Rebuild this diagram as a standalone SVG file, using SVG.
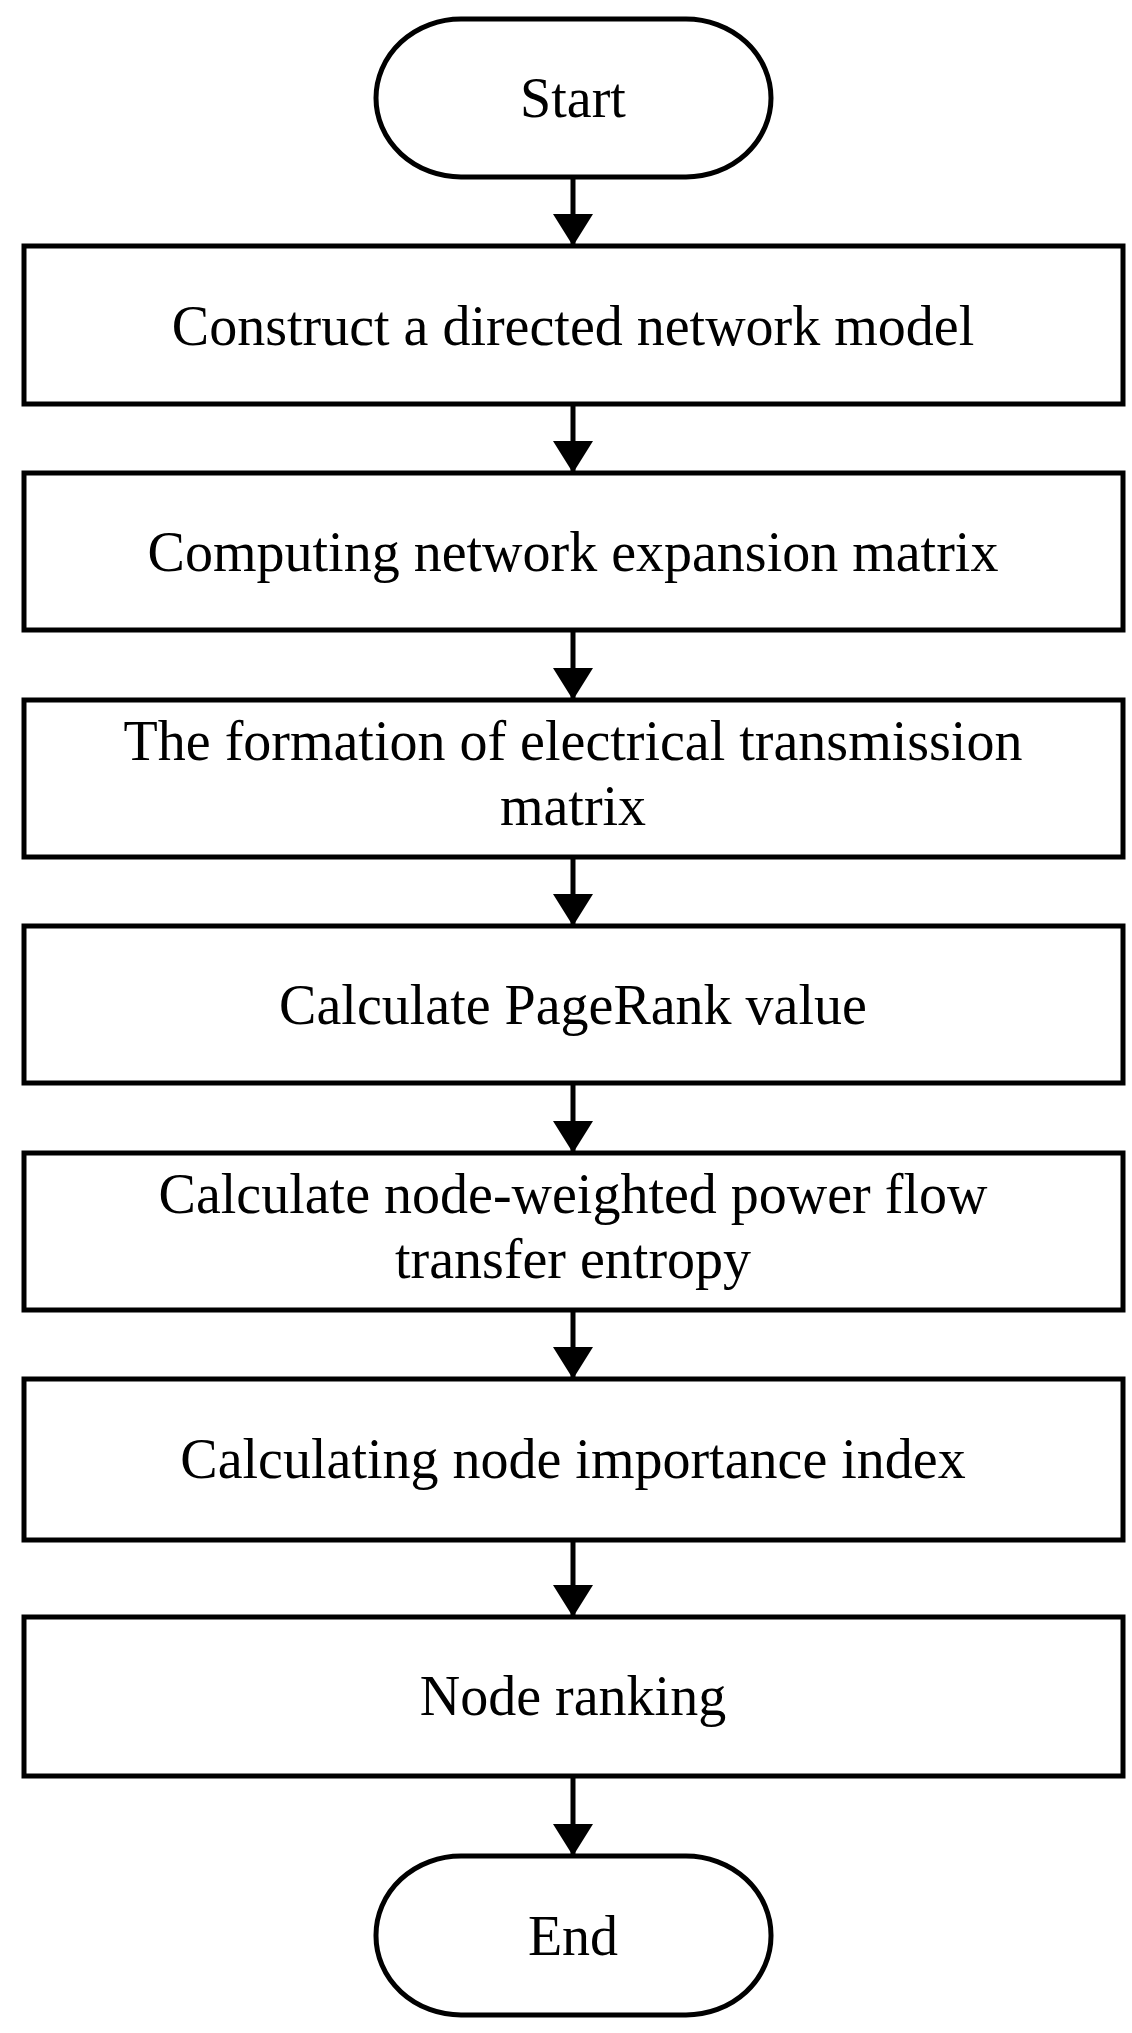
<svg xmlns="http://www.w3.org/2000/svg" width="1132" height="2033" viewBox="0 0 1132 2033">
<style>
.s{fill:#fff;stroke:#000;stroke-width:5}
.t{font-family:"Liberation Serif","Times New Roman",serif;font-size:56px;text-anchor:middle;fill:#000}
.c{stroke:#000;stroke-width:5;fill:none}
</style>
<defs><marker id="a" markerWidth="10" markerHeight="8" refX="10" refY="4" orient="auto" markerUnits="userSpaceOnUse" viewBox="0 0 10 8"><path d="M0,0L10,4L0,8z" fill="#000"/></marker>
<marker id="ah" viewBox="0 0 32 40" refX="32" refY="20" markerWidth="32" markerHeight="40" orient="auto" markerUnits="userSpaceOnUse"><path d="M0,0L32,20L0,40z" fill="#000"/></marker></defs>
<rect width="1132" height="2033" fill="#fff"/>
<g id="start"><rect class="s" x="376" y="19" width="395" height="158" rx="85" ry="79"/><text class="t" x="573" y="117">Start</text></g>
<g id="n1"><rect class="s" x="24" y="246" width="1099" height="158"/><text class="t" x="573" y="345">Construct a directed network model</text></g>
<g id="n2"><rect class="s" x="24" y="473" width="1099" height="157"/><text class="t" x="573" y="571">Computing network expansion matrix</text></g>
<g id="n3"><rect class="s" x="24" y="700" width="1099" height="157"/><text class="t" x="573" y="760">The formation of electrical transmission</text><text class="t" x="573" y="825">matrix</text></g>
<g id="n4"><rect class="s" x="24" y="926" width="1099" height="157"/><text class="t" x="573" y="1024">Calculate PageRank value</text></g>
<g id="n5"><rect class="s" x="24" y="1153" width="1099" height="157"/><text class="t" x="573" y="1213">Calculate node-weighted power flow</text><text class="t" x="573" y="1278">transfer entropy</text></g>
<g id="n6"><rect class="s" x="24" y="1379" width="1099" height="161"/><text class="t" x="573" y="1478">Calculating node importance index</text></g>
<g id="n7"><rect class="s" x="24" y="1617" width="1099" height="159"/><text class="t" x="573" y="1715">Node ranking</text></g>
<g id="end"><rect class="s" x="376" y="1856" width="395" height="159" rx="85" ry="79"/><text class="t" x="573" y="1955">End</text></g>
<g id="connectors">
<line class="c" x1="573" y1="177" x2="573" y2="246" marker-end="url(#ah)"/>
<line class="c" x1="573" y1="404" x2="573" y2="473" marker-end="url(#ah)"/>
<line class="c" x1="573" y1="630" x2="573" y2="700" marker-end="url(#ah)"/>
<line class="c" x1="573" y1="857" x2="573" y2="926" marker-end="url(#ah)"/>
<line class="c" x1="573" y1="1083" x2="573" y2="1153" marker-end="url(#ah)"/>
<line class="c" x1="573" y1="1310" x2="573" y2="1379" marker-end="url(#ah)"/>
<line class="c" x1="573" y1="1540" x2="573" y2="1617" marker-end="url(#ah)"/>
<line class="c" x1="573" y1="1776" x2="573" y2="1856" marker-end="url(#ah)"/>
</g>
</svg>
